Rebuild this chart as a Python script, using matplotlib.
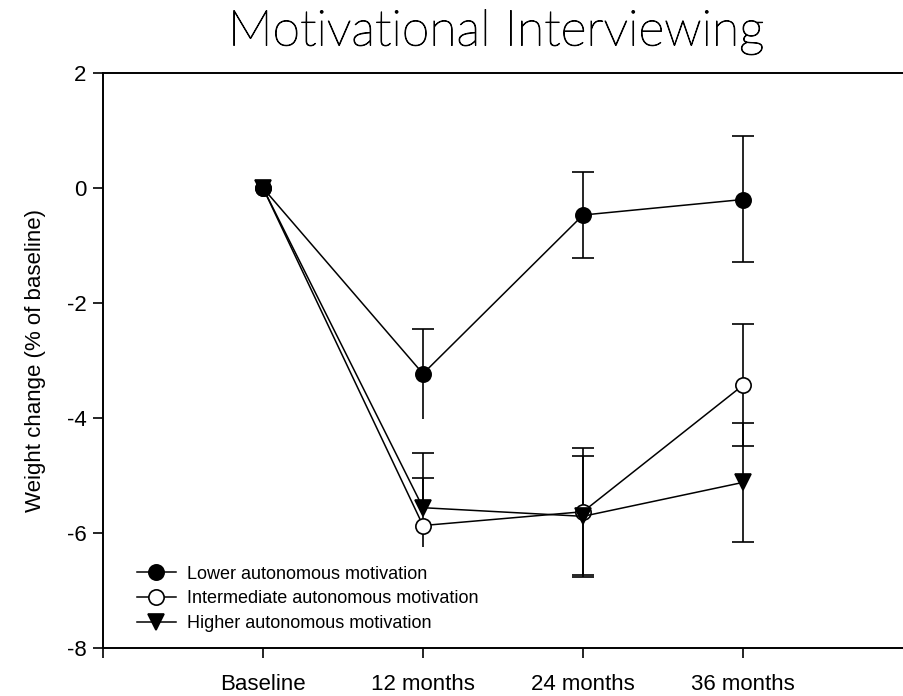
import numpy as np
import matplotlib
matplotlib.use("Agg")
import matplotlib.pyplot as plt
import matplotlib.patheffects as pe

plt.rcParams['font.family'] = ['Liberation Sans', 'DejaVu Sans']

timepoints = ['Baseline', '12 months', '24 months', '36 months']

lower_mean = [0, -3.23, -0.47, -0.20]
lower_err_lo = [0, 0.78, 0.75, 1.09]
lower_err_hi = [0, 0.78, 0.74, 1.10]

inter_mean = [0, -5.87, -5.63, -3.43]
inter_err_lo = [0, 0.37, 1.10, 1.06]
inter_err_hi = [0, 0.83, 1.10, 1.06]

higher_mean = [0, -5.56, -5.71, -5.12]
higher_err_lo = [0, 0.0, 1.05, 1.03]
higher_err_hi = [0, 0.96, 1.05, 1.03]

series = [
    ('Intermediate autonomous motivation', inter_mean, inter_err_lo, inter_err_hi, 'o', 'white'),
    ('Higher autonomous motivation', higher_mean, higher_err_lo, higher_err_hi, 'v', 'black'),
    ('Lower autonomous motivation', lower_mean, lower_err_lo, lower_err_hi, 'o', 'black'),
]

x = np.arange(1, len(timepoints) + 1)

fig = plt.figure(figsize=(9.04, 6.96), dpi=100)
ax = fig.add_axes([103 / 904, 1 - 648 / 696, 800 / 904, 575 / 696])

handles = {}
for name, mean, elo, ehi, mk, fc in series:
    mean = np.array(mean)
    # error bars from 12 months on; baseline is fixed at zero
    eb = ax.errorbar(x[1:], mean[1:], yerr=[elo[1:], ehi[1:]], fmt='none',
                     ecolor='black', elinewidth=1.2, capsize=8, capthick=1.2, zorder=2)
    caps = eb[1]
    # no lower cap at 12 months
    caps[0].set_markevery([1, 2])
    ln, = ax.plot(x, mean, color='black', lw=1.1, marker=mk, markersize=11,
                  markerfacecolor=fc, markeredgecolor='black', markeredgewidth=1.2,
                  zorder=3, label=name)
    handles[name] = ln

order = ['Lower autonomous motivation', 'Intermediate autonomous motivation',
         'Higher autonomous motivation']
ax.legend([handles[n] for n in order], order, loc='upper left',
          bbox_to_anchor=(0.042, 0.143), frameon=False, fontsize=13,
          handlelength=2.2, handletextpad=0.6, labelspacing=0.42,
          borderpad=0, borderaxespad=0)

ax.set_xlim(0, 5)
ax.set_ylim(-8, 2)
ax.set_xticks(np.arange(0, 5))
ax.set_xticklabels([''] + timepoints)
ax.set_yticks([2, 0, -2, -4, -6, -8])
ax.set_yticklabels(['2', '0', '-2', '-4', '-6', '-8'])
ax.tick_params(axis='x', direction='out', length=7, width=1.2, labelsize=16, pad=12)
ax.tick_params(axis='y', direction='out', length=7, width=1.2, labelsize=16, pad=5)
ax.spines['right'].set_visible(False)
for s in ['left', 'bottom', 'top']:
    ax.spines[s].set_linewidth(1.4)

ax.set_ylabel('Weight change (% of baseline)', fontsize=16, labelpad=15)

# light face, stroked a little so the title reads solid black
fig.text(496 / 904, 1 - 32 / 696, 'Motivational Interviewing', ha='center', va='center',
         fontsize=36, family=['Lato', 'DejaVu Sans'], fontweight='light', color='black',
         path_effects=[pe.withStroke(linewidth=0.7, foreground='black')])

fig.savefig('out.png', dpi=100)
